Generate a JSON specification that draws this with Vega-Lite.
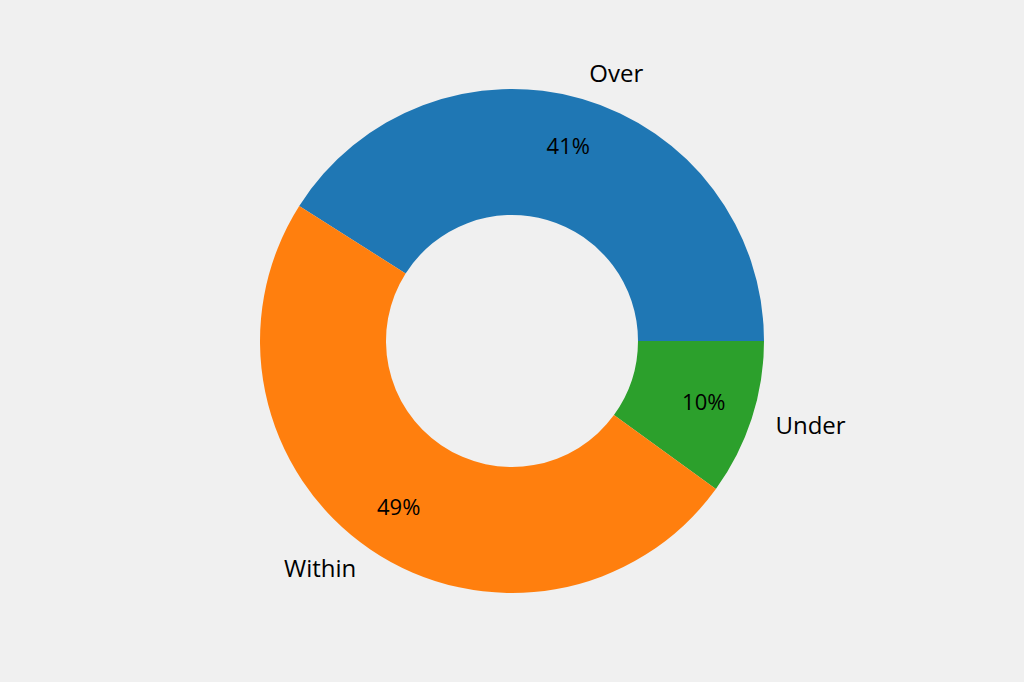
{
  "$schema": "https://vega.github.io/schema/vega-lite/v6.json",
  "width": 1024,
  "height": 682,
  "autosize": {"type": "fit", "contains": "padding"},
  "background": "#f0f0f0",
  "config": {"view": {"stroke": null}},
  "data": {
    "values": [
      {"category": "Over", "value": 41, "pct": "41%", "rank": 1},
      {"category": "Under", "value": 10, "pct": "10%", "rank": 2},
      {"category": "Within", "value": 49, "pct": "49%", "rank": 3}
    ]
  },
  "encoding": {
    "theta": {
      "field": "value",
      "type": "quantitative",
      "stack": true,
      "scale": {"range": [-1.00531, 5.27788]}
    },
    "order": {"field": "rank", "type": "quantitative"}
  },
  "layer": [
    {
      "mark": {"type": "arc", "outerRadius": 252, "innerRadius": 126},
      "encoding": {
        "color": {
          "field": "category",
          "type": "nominal",
          "scale": {
            "domain": ["Over", "Within", "Under"],
            "range": ["#1f77b4", "#ff7f0e", "#2ca02c"]
          },
          "legend": null
        }
      }
    },
    {
      "mark": {
        "type": "text",
        "radius": 201.6,
        "font": "Open Sans",
        "fontSize": 22,
        "fontWeight": 500,
        "color": "#000000"
      },
      "encoding": {"text": {"field": "pct"}}
    },
    {
      "mark": {
        "type": "text",
        "radius": 277,
        "font": "Open Sans",
        "fontSize": 24,
        "color": "#000000",
        "align": {"expr": "datum.category === 'Within' ? 'right' : 'left'"},
        "baseline": "middle"
      },
      "encoding": {"text": {"field": "category"}}
    }
  ]
}
